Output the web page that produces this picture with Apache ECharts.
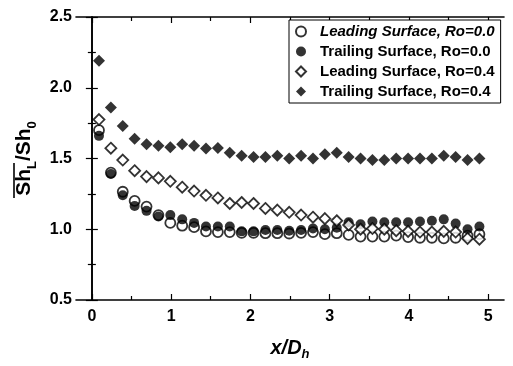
<!DOCTYPE html>
<html>
<head>
<meta charset="utf-8">
<script src="https://cdn.jsdelivr.net/npm/echarts@6/dist/echarts.min.js"></script>
<style>
html,body{margin:0;padding:0;background:#fff;}
#chart{width:513px;height:366px;}
</style>
</head>
<body>
<div id="chart"></div>
<script>
// x/Dh positions
var xValues = [0.09,0.24,0.39,0.54,0.69,0.84,0.99,1.14,1.29,1.44,1.59,1.74,1.89,2.04,2.19,2.34,2.49,2.64,2.79,2.94,3.09,3.24,3.39,3.54,3.69,3.84,3.99,4.14,4.29,4.44,4.59,4.74,4.89];
// Leading Surface, Ro=0.0 (open circles)
var lead00 = [1.70,1.40,1.265,1.20,1.16,1.10,1.045,1.025,1.015,0.985,0.98,0.98,0.975,0.975,0.972,0.972,0.97,0.975,0.98,0.965,0.972,0.96,0.948,0.948,0.948,0.955,0.945,0.94,0.94,0.935,0.94,0.955,0.965];
// Trailing Surface, Ro=0.0 (filled circles)
var trail00 = [1.66,1.39,1.24,1.165,1.13,1.09,1.10,1.07,1.045,1.02,1.02,1.02,0.985,0.985,0.995,0.995,0.99,0.995,1.005,1.00,1.01,1.05,1.035,1.055,1.05,1.05,1.05,1.055,1.06,1.07,1.04,1.00,1.02];
// Leading Surface, Ro=0.4 (open diamonds)
var lead04 = [1.775,1.573,1.489,1.414,1.372,1.363,1.339,1.297,1.27,1.24,1.221,1.182,1.189,1.182,1.147,1.135,1.12,1.10,1.085,1.075,1.06,1.03,1.00,1.005,1.00,0.99,0.985,0.98,0.98,0.985,0.98,0.935,0.93];
// Trailing Surface, Ro=0.4 (filled diamonds)
var trail04 = [2.19,1.86,1.73,1.64,1.60,1.59,1.58,1.60,1.59,1.57,1.575,1.54,1.52,1.51,1.51,1.52,1.50,1.52,1.50,1.53,1.54,1.51,1.50,1.49,1.49,1.50,1.50,1.50,1.50,1.52,1.51,1.49,1.50];

var seriesNames = ['Leading Surface, Ro=0.0','Trailing Surface, Ro=0.0','Leading Surface, Ro=0.4','Trailing Surface, Ro=0.4'];
var xTickLabels = [0,1,2,3,4,5];
var xMinorTicks = [0.5,1.5,2.5,3.5,4.5];

function pairs(ys){ return xValues.map(function(x,i){ return [x, ys[i]]; }); }

var FONT = 'Liberation Sans, Arial, sans-serif';
var chart = echarts.init(document.getElementById('chart'), null, {renderer:'canvas'});

var axisLine = {show:true, lineStyle:{color:'#000', width:1.6}};
function xAxisDef(pos, labels, ticks, len, showLine){
  return {
    type:'value', position:pos, min:-0.2, max:5.2,
    axisLine: showLine ? axisLine : {show:false},
    axisTick:{show:true, inside:true, length:len, customValues:ticks, lineStyle:{color:'#000', width:1.2}},
    axisLabel: labels ? {show:true, customValues:xTickLabels, color:'#000', fontFamily:FONT, fontWeight:'bold', fontSize:16, margin:9} : {show:false},
    splitLine:{show:false}
  };
}

var option = {
  backgroundColor:'#fff',
  animation:false,
  grid:{left:76, right:9, top:17, bottom:61},
  legend:{
    orient:'vertical', left:289, top:20,
    itemWidth:10, itemHeight:10, itemGap:5,
    padding:[4,6,4,6],
    borderColor:'#000', borderWidth:1,
    backgroundColor:'#fff',
    textStyle:{color:'#000', fontFamily:FONT, fontWeight:'bold', fontSize:15, padding:[0,0,0,9]},
    data:[
      {name:seriesNames[0], textStyle:{fontStyle:'italic'}},
      {name:seriesNames[1]},
      {name:seriesNames[2]},
      {name:seriesNames[3]}
    ]
  },
  graphic:[
    {type:'line', z:100, shape:{x1:14, y1:163, x2:14, y2:198}, style:{stroke:'#000', lineWidth:1.6}}
  ],
  xAxis:[
    Object.assign(xAxisDef('bottom', true, xTickLabels, 6, true), {
      name:'{i|x/D}{s|h}', nameLocation:'middle', nameGap:35,
      nameTextStyle:{rich:{
        i:{fontFamily:FONT, fontWeight:'bold', fontStyle:'italic', fontSize:20, color:'#000', lineHeight:26},
        s:{fontFamily:FONT, fontWeight:'bold', fontStyle:'italic', fontSize:13, color:'#000', verticalAlign:'bottom', lineHeight:26}
      }}
    }),
    xAxisDef('top', false, xTickLabels, 6, true),
    xAxisDef('bottom', false, xMinorTicks, 4, false),
    xAxisDef('top', false, xMinorTicks, 4, false)
  ],
  yAxis:[
    {
      type:'value', position:'left', min:0.5, max:2.5, interval:0.5,
      axisLine:axisLine,
      axisTick:{show:true, inside:true, length:6, lineStyle:{color:'#000', width:1.2}},
      minorTick:{show:true, splitNumber:2, length:4, lineStyle:{color:'#000', width:1.2}},
      axisLabel:{color:'#000', fontFamily:FONT, fontWeight:'bold', fontSize:16, margin:4,
        formatter:function(v){ return v.toFixed(1); }},
      splitLine:{show:false},
      name:'{a|Sh}{s|L}{a|/Sh}{s|0}', nameLocation:'middle', nameRotate:90, nameGap:31,
      nameTextStyle:{rich:{
        a:{fontFamily:FONT, fontWeight:'bold', fontSize:21, color:'#000', lineHeight:30},
        s:{fontFamily:FONT, fontWeight:'bold', fontSize:13, color:'#000', verticalAlign:'bottom', lineHeight:30}
      }}
    },
    {
      type:'value', position:'right', min:0.5, max:2.5, interval:0.5,
      axisLine:axisLine,
      axisTick:{show:true, inside:true, length:6, lineStyle:{color:'#000', width:1.2}},
      minorTick:{show:true, splitNumber:2, length:4, lineStyle:{color:'#000', width:1.2}},
      axisLabel:{show:false},
      splitLine:{show:false}
    }
  ],
  series:[
    {name:seriesNames[0], type:'scatter', symbol:'circle', symbolSize:10, data:pairs(lead00),
     itemStyle:{color:'#fff', borderColor:'#000', borderWidth:1.8}},
    {name:seriesNames[1], type:'scatter', symbol:'circle', symbolSize:10, data:pairs(trail00),
     itemStyle:{color:'#000', borderColor:'#000', borderWidth:0}},
    {name:seriesNames[2], type:'scatter', symbol:'diamond', symbolSize:11, data:pairs(lead04),
     itemStyle:{color:'#fff', borderColor:'#000', borderWidth:1.8}},
    {name:seriesNames[3], type:'scatter', symbol:'diamond', symbolSize:12, data:pairs(trail04),
     itemStyle:{color:'#000', borderColor:'#000', borderWidth:0}}
  ]
};
chart.setOption(option);
</script>
</body>
</html>
